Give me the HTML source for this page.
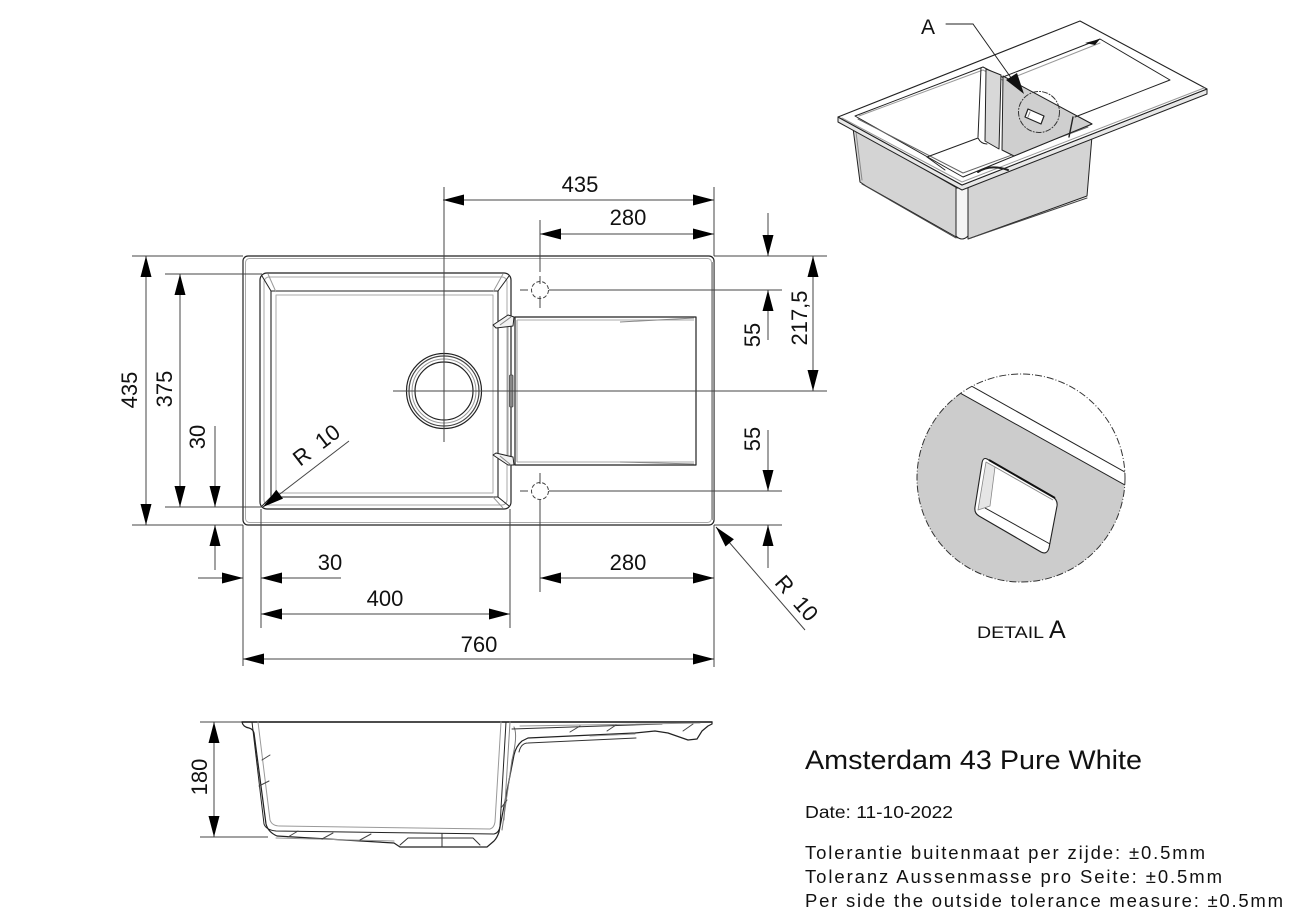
<!DOCTYPE html>
<html><head><meta charset="utf-8"><style>
html,body{margin:0;padding:0;background:#fff;}
svg{display:block;}
text{font-family:"Liberation Sans",Arial,sans-serif;fill:#111;}
</style></head><body>
<svg width="1291" height="912" viewBox="0 0 1291 912" xmlns="http://www.w3.org/2000/svg">
<defs>
<clipPath id="dc"><circle cx="1021" cy="478" r="104"/></clipPath>
</defs>
<rect width="1291" height="912" fill="#fff"/>

<!-- ================= TOP VIEW SINK ================= -->
<g fill="none" stroke-linejoin="round">
  <rect x="243" y="256" width="471" height="269" rx="5" stroke="#222" stroke-width="1.2"/>
  <rect x="245.5" y="258.5" width="466" height="264" rx="4" stroke="#aaa" stroke-width="1"/>
  <line x1="713" y1="262" x2="713" y2="520" stroke="#999" stroke-width="2"/>
  <rect x="260" y="273" width="251" height="236" rx="7" stroke="#222" stroke-width="1.2"/>
  <rect x="264" y="277" width="243" height="228" rx="5" stroke="#aaa" stroke-width="1"/>
  <rect x="271" y="291" width="227" height="206" stroke="#222" stroke-width="1.1"/>
  <rect x="276" y="295" width="217" height="198" stroke="#aaa" stroke-width="1"/>
  <line x1="262" y1="276" x2="271" y2="291" stroke="#222"/>
  <line x1="268" y1="274" x2="276" y2="292" stroke="#999"/>
  <line x1="509" y1="276" x2="498" y2="291" stroke="#222"/>
  <line x1="503" y1="274" x2="493" y2="292" stroke="#999"/>
  <line x1="262" y1="506" x2="271" y2="497" stroke="#222"/>
  <line x1="509" y1="506" x2="498" y2="497" stroke="#222"/>
  <line x1="503" y1="508" x2="493" y2="497" stroke="#999"/>
  <line x1="508" y1="327" x2="508" y2="455" stroke="#999" stroke-width="1"/>
  <path d="M515 317 L696 317 L696 465 L515 465 Z" stroke="#222" stroke-width="1.2"/>
  <line x1="517" y1="320" x2="517" y2="462" stroke="#999"/>
  <line x1="517" y1="320" x2="694" y2="320" stroke="#aaa"/>
  <line x1="620" y1="322" x2="694" y2="318" stroke="#888"/>
  <line x1="517" y1="462" x2="694" y2="462" stroke="#aaa"/>
  <line x1="620" y1="462" x2="694" y2="464" stroke="#888"/>
  <path d="M493 325 L508 315 L514 317 L513 326 L496 328 Z" stroke="#222" fill="#f2f2f2"/>
  <line x1="500" y1="325" x2="511" y2="317" stroke="#888"/>
  <path d="M493 455 L508 465 L514 465 L513 457 L496 453 Z" stroke="#222" fill="#f2f2f2"/>
  <line x1="500" y1="456" x2="511" y2="465" stroke="#888"/>
  <rect x="509.5" y="375" width="3.5" height="32" rx="1" fill="#888" stroke="#444" stroke-width="0.8"/>
  <circle cx="444" cy="391" r="37.5" stroke="#222" stroke-width="1.2"/>
  <circle cx="444" cy="391" r="35" stroke="#444" stroke-width="1.2"/>
  <circle cx="444" cy="391" r="32" stroke="#999" stroke-width="1"/>
  <circle cx="444" cy="391" r="29" stroke="#222" stroke-width="1.2"/>
  <circle cx="540" cy="290" r="8.5" stroke="#444" stroke-dasharray="4 2"/>
  <circle cx="540" cy="491" r="8.5" stroke="#444" stroke-dasharray="4 2"/>
  <line x1="520" y1="290" x2="528" y2="290" stroke="#444"/>
  <line x1="520" y1="491" x2="528" y2="491" stroke="#444"/>
  <line x1="540" y1="276" x2="540" y2="284" stroke="#444"/>
  <line x1="540" y1="296" x2="540" y2="308" stroke="#444"/>
  <line x1="540" y1="473" x2="540" y2="484" stroke="#444"/>
</g>

<!-- ================= DIMENSIONS ================= -->
<g stroke="#444" stroke-width="1" fill="none">
  <line x1="444" y1="187" x2="444" y2="442"/>
  <line x1="393" y1="391" x2="827" y2="391"/>
  <line x1="714" y1="187" x2="714" y2="256"/>
  <line x1="540" y1="220" x2="540" y2="272"/>
  <line x1="443" y1="200" x2="714" y2="200"/>
  <line x1="540" y1="234" x2="714" y2="234"/>
  <line x1="714" y1="256" x2="827" y2="256"/>
  <line x1="549" y1="290" x2="782" y2="290"/>
  <line x1="549" y1="491" x2="782" y2="491"/>
  <line x1="714" y1="525" x2="782" y2="525"/>
  <line x1="768" y1="213" x2="768" y2="256"/>
  <line x1="768" y1="290" x2="768" y2="340"/>
  <line x1="813" y1="256" x2="813" y2="391"/>
  <line x1="768" y1="430" x2="768" y2="491"/>
  <line x1="768" y1="525" x2="768" y2="568"/>
  <line x1="716" y1="527" x2="805" y2="630"/>
  <line x1="132" y1="256" x2="243" y2="256"/>
  <line x1="132" y1="525" x2="243" y2="525"/>
  <line x1="146" y1="256" x2="146" y2="525"/>
  <line x1="165" y1="274" x2="262" y2="274"/>
  <line x1="165" y1="507" x2="262" y2="507"/>
  <line x1="180" y1="274" x2="180" y2="507"/>
  <line x1="215" y1="426" x2="215" y2="507"/>
  <line x1="215" y1="525" x2="215" y2="570"/>
  <line x1="263" y1="507" x2="349" y2="441"/>
  <line x1="243" y1="525" x2="243" y2="666"/>
  <line x1="261" y1="509" x2="261" y2="628"/>
  <line x1="510" y1="509" x2="510" y2="628"/>
  <line x1="540" y1="499" x2="540" y2="592"/>
  <line x1="714" y1="525" x2="714" y2="667"/>
  <line x1="198" y1="578" x2="243" y2="578"/>
  <line x1="261" y1="578" x2="341" y2="578"/>
  <line x1="261" y1="614" x2="510" y2="614"/>
  <line x1="540" y1="578" x2="714" y2="578"/>
  <line x1="243" y1="659" x2="714" y2="659"/>
  <line x1="200" y1="722" x2="242" y2="722"/>
  <line x1="200" y1="837" x2="268" y2="837"/>
  <line x1="214" y1="722" x2="214" y2="837"/>
</g>

<g fill="#000" stroke="none">
  <polygon points="443,200 464,194.5 464,205.5"/>
  <polygon points="714,200 693,194.5 693,205.5"/>
  <polygon points="540,234 561,228.5 561,239.5"/>
  <polygon points="714,234 693,228.5 693,239.5"/>
  <polygon points="768,256 762.5,235 773.5,235"/>
  <polygon points="768,290 762.5,311 773.5,311"/>
  <polygon points="813,256 807.5,277 818.5,277"/>
  <polygon points="813,391 807.5,370 818.5,370"/>
  <polygon points="768,491 762.5,470 773.5,470"/>
  <polygon points="768,525 762.5,546 773.5,546"/>
  <polygon points="716,527 733.9,539.3 725.5,546.5"/>
  <polygon points="146,256 140.5,277 151.5,277"/>
  <polygon points="146,525 140.5,504 151.5,504"/>
  <polygon points="180,274 174.5,295 185.5,295"/>
  <polygon points="180,507 174.5,486 185.5,486"/>
  <polygon points="215,507 209.5,486 220.5,486"/>
  <polygon points="215,525 209.5,546 220.5,546"/>
  <polygon points="263,507 283,498.6 276.3,489.8"/>
  <polygon points="243,578 222,572.5 222,583.5"/>
  <polygon points="261,578 282,572.5 282,583.5"/>
  <polygon points="261,614 282,608.5 282,619.5"/>
  <polygon points="510,614 489,608.5 489,619.5"/>
  <polygon points="540,578 561,572.5 561,583.5"/>
  <polygon points="714,578 693,572.5 693,583.5"/>
  <polygon points="243,659 264,653.5 264,664.5"/>
  <polygon points="714,659 693,653.5 693,664.5"/>
  <polygon points="214,722 208.5,743 219.5,743"/>
  <polygon points="214,837 208.5,816 219.5,816"/>
</g>

<g font-size="22">
  <text x="580" y="192" text-anchor="middle">435</text>
  <text x="628" y="225" text-anchor="middle">280</text>
  <text transform="translate(760,335) rotate(-90)" text-anchor="middle">55</text>
  <text transform="translate(807,318) rotate(-90)" text-anchor="middle">217,5</text>
  <text transform="translate(760,439) rotate(-90)" text-anchor="middle">55</text>
  <text transform="translate(791,603) rotate(49)" text-anchor="middle" word-spacing="6">R 10</text>
  <text transform="translate(137,390) rotate(-90)" text-anchor="middle">435</text>
  <text transform="translate(172,389) rotate(-90)" text-anchor="middle">375</text>
  <text transform="translate(205,437) rotate(-90)" text-anchor="middle">30</text>
  <text transform="translate(321,451) rotate(-37.5)" text-anchor="middle" word-spacing="6">R 10</text>
  <text x="330" y="570" text-anchor="middle">30</text>
  <text x="385" y="606" text-anchor="middle">400</text>
  <text x="628" y="570" text-anchor="middle">280</text>
  <text x="479" y="652" text-anchor="middle">760</text>
  <text transform="translate(207,777) rotate(-90)" text-anchor="middle">180</text>
</g>

<!-- ================= SIDE VIEW ================= -->
<g fill="none" stroke-linejoin="round" stroke-linecap="round">
  <line x1="242" y1="722" x2="712" y2="722" stroke="#111" stroke-width="1.4"/>
  <path d="M242 722 Q243 727 249 728 Q253 729 254 733 L266 824 Q268 832 277 836 L394 843 L400 847 L487 847 L494 841 Q497 838 499 832 L514 755 Q516 746 522 741 L528 738 L635 733 L655 731 L668 733 L688 740 L697 739 L702 731 L708 726 L712 724 L712 722" stroke="#222" stroke-width="1.2"/>
  <path d="M252 722 L264 824 Q266 830 276 831 L494 834 Q499 833 500 826 L506 722" stroke="#222" stroke-width="1"/>
  <path d="M258 722 L270 820 Q272 826 280 826 L490 829 Q494 828 495 822 L501 722" stroke="#999" stroke-width="1"/>
  <path d="M510 722 L504 820" stroke="#888" stroke-width="1"/>
  <path d="M514 727 Q518 735 512 760 L502 830" stroke="#777" stroke-width="1"/>
  <line x1="512" y1="729" x2="662" y2="724" stroke="#333" stroke-width="1"/>
  <line x1="520" y1="726" x2="700" y2="723" stroke="#999" stroke-width="1"/>
  <path d="M519 752 Q521 743 528 743 L636 738" stroke="#333" stroke-width="1"/>
  <line x1="590" y1="736" x2="635" y2="734" stroke="#999"/>
  <path d="M400 845 L408 838 L473 838 L480 845" stroke="#333" stroke-width="1"/>
  <line x1="442" y1="834" x2="442" y2="847" stroke="#333"/>
  <line x1="276" y1="838" x2="394" y2="841" stroke="#999"/>
  <g stroke="#444" stroke-width="1">
    <line x1="259" y1="786" x2="269" y2="781"/>
    <line x1="262" y1="760" x2="270" y2="755"/>
    <line x1="288" y1="837" x2="298" y2="831"/>
    <line x1="322" y1="839" x2="333" y2="833"/>
    <line x1="360" y1="840" x2="371" y2="834"/>
    <line x1="501" y1="808" x2="507" y2="800"/>
    <line x1="570" y1="732" x2="580" y2="726"/>
    <line x1="607" y1="731" x2="616" y2="725"/>
    <line x1="683" y1="731" x2="693" y2="724"/>
  </g>
</g>

<!-- ================= 3D VIEW ================= -->
<g stroke-linejoin="round" stroke-linecap="round">
  <polygon points="853,128 957,188 958,238 866,186 860,182" fill="#d4d4d4" stroke="#222" stroke-width="1"/>
  <polygon points="967,188 1092,136 1087,196 968,239" fill="#d4d4d4" stroke="#222" stroke-width="1"/>
  <path d="M956 188 L968 188 L968 236 Q962 242 956 236 Z" fill="#f4f4f4" stroke="#222" stroke-width="1"/>
  <line x1="862" y1="184" x2="956" y2="238" stroke="#444" stroke-width="1"/>
  <line x1="968" y1="239" x2="1087" y2="198" stroke="#444" stroke-width="1"/>
  <line x1="856" y1="132" x2="862" y2="180" stroke="#888" stroke-width="1"/>
  <polygon points="838,122 962,190 1207,94 1207,89 962,185 838,117" fill="#e8e8e8" stroke="#222" stroke-width="1"/>
  <polygon points="838,117 1080,21 1207,89 962,185" fill="#fff" stroke="#222" stroke-width="1.1"/>
  <line x1="842" y1="118" x2="962" y2="182" stroke="#999" stroke-width="1"/>
  <line x1="962" y1="182" x2="1204" y2="88" stroke="#999" stroke-width="1"/>
  <polygon points="855,116 983,67 1092,124 963,177" fill="#fff" stroke="#222" stroke-width="1"/>
  <polyline points="859,116 983,70 1088,124" fill="none" stroke="#999" stroke-width="1"/>
  <polyline points="858,119 963,173 1088,127" fill="none" stroke="#666" stroke-width="1"/>
  <polygon points="1003,76 1092,124 1014,156 1002,150" fill="#cfcfcf" stroke="#222" stroke-width="1"/>
  <polygon points="986,69 1001,75 999,149 985,141" fill="#d8d8d8" stroke="#222" stroke-width="1"/>
  <line x1="981" y1="68" x2="978" y2="137" stroke="#222" stroke-width="1"/>
  <line x1="1073" y1="117" x2="1069" y2="137" stroke="#222" stroke-width="1.4"/>
  <line x1="927" y1="157" x2="978" y2="138" stroke="#222" stroke-width="1"/>
  <path d="M978 138 Q981 144 987 144" fill="none" stroke="#222" stroke-width="1"/>
  <line x1="927" y1="157" x2="945" y2="170" stroke="#222" stroke-width="1"/>
  <path d="M978 172 Q990 164 1008 170" fill="none" stroke="#222" stroke-width="2"/>
  <polyline points="1003,77 1100,39 1170,80 1075,117" fill="none" stroke="#222" stroke-width="1"/>
  <line x1="1007" y1="80" x2="1100" y2="43" stroke="#999" stroke-width="1"/>
  <polygon points="1085,43 1100,39 1095,45" fill="#111"/>
  <line x1="946" y1="24" x2="973" y2="24" stroke="#222" stroke-width="1"/>
  <line x1="973" y1="24" x2="1014" y2="82" stroke="#222" stroke-width="1"/>
  <polygon points="1024,94 1006,80 1017,73" fill="#111"/>
  <circle cx="1039" cy="112" r="20.5" fill="none" stroke="#333" stroke-width="1" stroke-dasharray="5 2 1 2"/>
  <polygon points="1028,109 1044,116 1041,124 1025,117" fill="#fff" stroke="#222" stroke-width="1.2"/>
  <line x1="1030" y1="112" x2="1028" y2="117" stroke="#888"/>
</g>
<text x="921" y="34" font-size="21">A</text>

<!-- ================= DETAIL A ================= -->
<g clip-path="url(#dc)">
  <rect x="915" y="372" width="212" height="212" fill="#fff"/>
  <polygon points="900,359.5 1140,493.4 1140,600 900,600" fill="#cccccc"/>
  <line x1="900" y1="359.5" x2="1140" y2="493.4" stroke="#222" stroke-width="1"/>
  <line x1="900" y1="346" x2="1140" y2="480.5" stroke="#222" stroke-width="1"/>
</g>
<circle cx="1021" cy="478" r="104" fill="none" stroke="#333" stroke-width="1" stroke-dasharray="7 2 1 2"/>
<g stroke-linejoin="round">
  <path d="M987 459 L1052 496 Q1058 500 1057 506 L1049 548 Q1047 555 1041 552 L979 516 Q974 513 975 507 L982 463 Q983 457 987 459 Z" fill="#fff" stroke="#222" stroke-width="1.1"/>
  <polygon points="986,462 995,467 990,506 978,510" fill="#e6e6e6" stroke="#888" stroke-width="0.8"/>
  <line x1="989" y1="460" x2="1055" y2="498" stroke="#111" stroke-width="2"/>
  <line x1="985" y1="508" x2="1050" y2="544" stroke="#222" stroke-width="1"/>
  <line x1="995" y1="467" x2="1053" y2="500" stroke="#888" stroke-width="1"/>
</g>
<text x="977" y="638" font-size="16.5" textLength="67" lengthAdjust="spacingAndGlyphs">DETAIL</text>
<text x="1049" y="638" font-size="25">A</text>

<!-- ================= TITLE BLOCK ================= -->
<text x="805" y="769" font-size="27" textLength="337" lengthAdjust="spacingAndGlyphs">Amsterdam 43 Pure White</text>
<text x="805" y="818" font-size="17.5" textLength="148" lengthAdjust="spacingAndGlyphs">Date: 11-10-2022</text>
<text x="805" y="859" font-size="18.5" textLength="400" lengthAdjust="spacing">Tolerantie buitenmaat per zijde: ±0.5mm</text>
<text x="805" y="883" font-size="18.5" textLength="417" lengthAdjust="spacing">Toleranz Aussenmasse pro Seite: ±0.5mm</text>
<text x="805" y="907" font-size="18.5" textLength="478" lengthAdjust="spacing">Per side the outside tolerance measure: ±0.5mm</text>
</svg>
</body></html>
